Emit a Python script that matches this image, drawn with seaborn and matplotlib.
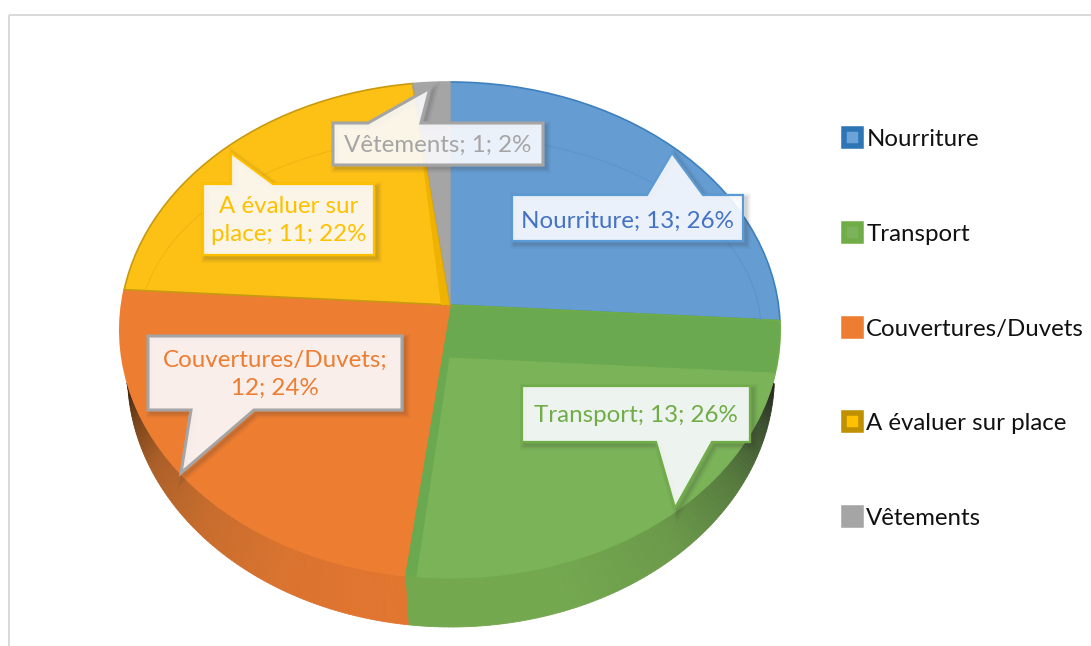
import numpy as np
import matplotlib
matplotlib.use("Agg")
import matplotlib.pyplot as plt
import seaborn as sns
from matplotlib.collections import PolyCollection
from matplotlib.patches import Patch, Polygon, Rectangle
from matplotlib.transforms import Transform
from matplotlib.colors import to_rgb

# ---- data -----------------------------------------------------------------
categories = ["Nourriture", "Transport", "Couvertures/Duvets", "A évaluer sur place", "Vêtements"]
values = [13, 13, 12, 11, 1]
callout_texts = ["Nourriture; 13; 26%", "Transport; 13; 26%", "Couvertures/Duvets;\n12; 24%",
                 "A évaluer sur\nplace; 11; 22%", "Vêtements; 1; 2%"]
face_colors = ["#659DD3", "#6AA950", "#ED7D31", "#FDC116", "#A5A5A5"]
edge_colors = ["#3D80C0", "#70AD47", "#ED7D31", "#C79A10", "#A5A5A5"]
text_colors = ["#4472C4", "#70AD47", "#ED7D31", "#FFC000", "#A5A5A5"]

sns.set_theme(style="white")
plt.rcParams["font.family"] = ["Lato", "DejaVu Sans"]
palette = sns.color_palette(face_colors)

W, H = 1091, 646
fig = plt.figure(figsize=(W / 100, H / 100), dpi=100, facecolor="white")
ax = fig.add_axes([0, 0, 1, 1])

wedges, _ = ax.pie(values, colors=palette, startangle=90, counterclock=False, radius=1.0,
                   wedgeprops=dict(linewidth=1.2, zorder=3))
ax.set_aspect("auto")
ax.set_xlim(0, W)
ax.set_ylim(H, 0)
ax.axis("off")


class TiltedDisc(Transform):
    """Perspective view of the unit disc on the canvas."""
    input_dims = 2
    output_dims = 2
    has_inverse = False
    cx, cy, bx, ay, k = 450.0, 305.0, 328.5, 245.5, 0.1008

    def transform_non_affine(self, xy):
        xy = np.asarray(xy, float)
        w = 1 + self.k * xy[:, 1]
        return np.c_[self.cx + self.bx * xy[:, 0] / w, self.cy - self.ay * xy[:, 1] / w]


disc = TiltedDisc()
for wedge, ec in zip(wedges, edge_colors):
    wedge.set_transform(disc + ax.transData)
    wedge.set_edgecolor(ec)


def on_disc(deg):
    r = np.radians(deg)
    return disc.transform_non_affine(np.c_[np.sin(r), np.cos(r)])


bounds = np.cumsum([0] + values) / sum(values) * 360


# ---- side wall with its light falloff -------------------------------------
def rim(t):
    r = np.radians(t)
    return np.c_[450 + 331 * np.sin(r), 330 - 248 * np.cos(r)]


def base(t):
    r = np.radians(t)
    return np.c_[451 + 323.5 * np.sin(r), 375 - 252 * np.cos(r)]


def wall(t_rim, t_base, stops, cols):
    a, b = rim(t_rim), base(t_base)
    polys, fc = [], []
    cols = np.array([to_rgb(c) for c in cols])
    for i in range(len(t_rim) - 1):
        polys.append([a[i], a[i + 1], b[i + 1], b[i]])
        f = (t_rim[i] - t_rim[0]) / (t_rim[-1] - t_rim[0])
        fc.append([np.interp(f, stops, cols[:, j]) for j in range(3)])
    ax.add_collection(PolyCollection(polys, facecolors=fc, edgecolors=fc, linewidths=0.6, zorder=1))


n = 120
wall(np.linspace(102.4, 187.8, n), np.linspace(92, 187.6, n),
     [0, 0.1, 0.25, 0.45, 0.7, 1], ["#23231C", "#3B5030", "#567A3E", "#6B9A4A", "#74A84F", "#74A84F"])
wall(np.linspace(187.8, 257.6, n), np.linspace(187.6, 268, n),
     [0, 0.3, 0.55, 0.75, 0.9, 1], ["#E2762F", "#DA732F", "#C66C2D", "#AC5F28", "#704018", "#2E1C0C"])

# lighter face of the lowered Transport slice
inner = on_disc(np.linspace(bounds[1] + 12.1, bounds[2] - 2, 60))
apex = disc.transform_non_affine(np.array([[0.0, 0.0]])) + [0, 53]
ax.fill(*np.vstack([apex, inner]).T, color="#7AB358", lw=0.8, zorder=4)

# darker side of the Yellow slice
yellow = on_disc(np.array([bounds[4]]))
ax.fill(*np.vstack([yellow, [[441, 305], [450, 305]]]).T, color="#EFB200", lw=0, zorder=4)
ax.plot(*np.vstack([yellow, [[450, 305]]]).T, color="#C79A10", lw=0.6, alpha=0.6, zorder=4)

# faint inner rings
for t0, t1, col in [(0, 87, "#5C94CC"), (-78, -10, "#F0B512")]:
    r = np.radians(np.linspace(t0, t1, 60))
    ax.plot(450 + 311 * np.sin(r), 330 - 194 * np.cos(r), color=col, lw=0.8, zorder=4)

# ---- callouts -------------------------------------------------------------
call_boxes = [(512, 195, 743, 241), (522, 386, 750, 442), (148, 336, 402, 410),
              (203, 184, 374, 255), (333, 123, 543, 165)]
call_tips = [(672, 153), (675, 508), (181, 473), (231, 153), (430, 88)]
call_bases = [(647, 703), (656, 712), (191, 254), (231, 273), (368, 421)]
call_on_top = [True, False, False, True, True]
call_edges = ["#5B9BD5", "#70AD47", "#A5A5A5", "#FFC000", "#A5A5A5"]
call_lw = [1.6, 1.6, 2.2, 1.6, 2.2]
text_y = [221, 415, None, None, 145]

for i, txt in enumerate(callout_texts):
    x0, y0, x1, y1 = call_boxes[i]
    bl, br = call_bases[i]
    if call_on_top[i]:
        pts = [(x0, y0), (bl, y0), call_tips[i], (br, y0), (x1, y0), (x1, y1), (x0, y1)]
    else:
        pts = [(x0, y0), (x1, y0), (x1, y1), (br, y1), call_tips[i], (bl, y1), (x0, y1)]
    pts = np.array(pts, float)
    for lw, a in [(7, 0.05), (4.5, 0.07), (2, 0.1)]:
        ax.add_patch(Polygon(pts + [3, 3], closed=True, fill=False, edgecolor="#303030",
                             lw=lw, alpha=a, zorder=6 + i * 0.1))
    ax.add_patch(Polygon(pts, closed=True, facecolor=(0.985, 0.985, 1.0, 0.9), edgecolor=call_edges[i],
                         lw=call_lw[i], joinstyle="miter", zorder=6.05 + i * 0.1))
    cy = text_y[i] if text_y[i] is not None else (y0 + y1) / 2 + 1
    ax.text((x0 + x1) / 2, cy, txt, color=text_colors[i], fontsize=17.4, ha="center", va="center",
            linespacing=1.42, zorder=7)

# ---- legend ---------------------------------------------------------------
leg_outer = ["#2E75B6", "#70AD47", "#ED7D31", "#BF9000", "#A5A5A5"]
leg_inner = ["#6BA3D8", "#7CB35A", "#ED7D31", "#FFC000", "#A5A5A5"]
handles = [Patch(facecolor=fi, edgecolor=fo, linewidth=4.0, joinstyle="round")
           for fi, fo in zip(leg_inner, leg_outer)]
ax.legend(handles, categories, loc="upper left", bbox_to_anchor=(844, 129),
          bbox_transform=ax.transData, frameon=False, fontsize=17.3, borderpad=0, borderaxespad=0,
          labelspacing=3.07, handlelength=0.71, handleheight=0.71, handletextpad=0.22,
          labelcolor="#111111")

# ---- chart frame ----------------------------------------------------------
ax.add_patch(Rectangle((9, 15), 1300, 900, fill=False, edgecolor="#D9D9D9", lw=1.4, zorder=0))

fig.savefig("out.png", dpi=100, facecolor="white")
